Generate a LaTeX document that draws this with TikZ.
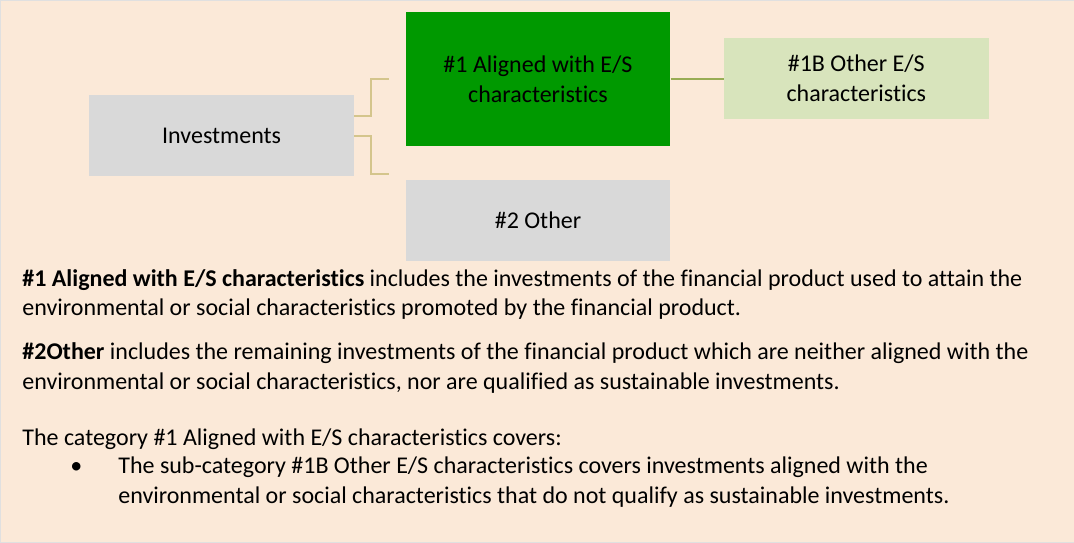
\documentclass[tikz,border=0pt]{standalone}
\usepackage{fontspec}
\setmainfont{Carlito}[Ligatures={NoCommon}]
\usepackage{tikz}
\usetikzlibrary{positioning}

\definecolor{paper}{RGB}{251,233,216}
\definecolor{boxgray}{RGB}{217,217,217}
\definecolor{esgreen}{RGB}{0,153,0}
\definecolor{palegreen}{RGB}{216,228,188}
\definecolor{tan}{RGB}{212,197,140}
\definecolor{olive}{RGB}{152,172,84}

\begin{document}
\begin{tikzpicture}[
    x=1pt, y=-1pt,
    font=\fontsize{24}{30}\selectfont,
    block/.style={rectangle, fill=boxgray, inner sep=0pt, minimum height=81pt, minimum width=265pt, align=center},
    main/.style={block, fill=esgreen, minimum height=134pt},
    sub/.style={block, fill=palegreen},
    elbow/.style={draw=tan, line width=2pt},
    link/.style={draw=olive, line width=2pt},
    para/.style={anchor=base west, align=left, inner sep=0pt, font=\fontsize{24}{29.3}\selectfont}
]

% Background
\fill [paper, draw=black!12] (0,0) rectangle (1074,542);
\useasboundingbox (0,0) rectangle (1074,542);

% Nodes
\node (Investments) [block] at (221.5,135.5) {Investments};
\node (Aligned) [main] at (538,79) {\#1 Aligned with E/S\\characteristics};
\node (OtherES) [sub, right=53pt of Aligned, yshift=0.5pt] {\#1B Other E/S\\characteristics};
\node (Other) [block, below=33pt of Aligned] {\#2 Other};

\coordinate (TopEnd) at (389,79);
\coordinate (BotEnd) at (389,173.5);

% Arrows
\draw [elbow] ([yshift=19.5pt]Investments.east) -- ++(17,0) |- (TopEnd);
\draw [elbow] (Investments.east) -- ++(17,0) |- (BotEnd);
\draw [link] (Aligned.east) -- (Aligned.east -| OtherES.west);

% Text (nodes sit on the baseline of their last line)
\node (TextOne) [para] at (22,315.5) {\textbf{\#1 Aligned with E/S characteristics} includes the investments of the financial product used to attain the\\environmental or social characteristics promoted by the financial product.};
\node (TextTwo) [para] at (22,389) {\textbf{\#2Other} includes the remaining investments of the financial product which are neither aligned with the\\environmental or social characteristics, nor are qualified as sustainable investments.};
\node (TextThree) [para] at (22,445) {The category \#1 Aligned with E/S characteristics covers:};
\node (Bullet) [para] at (70,473) {\textbullet};
\node (BulletText) [para] at (118,503) {The sub-category \#1B Other E/S characteristics covers investments aligned with the\\environmental or social characteristics that do not qualify as sustainable investments.};

\end{tikzpicture}
\end{document}
